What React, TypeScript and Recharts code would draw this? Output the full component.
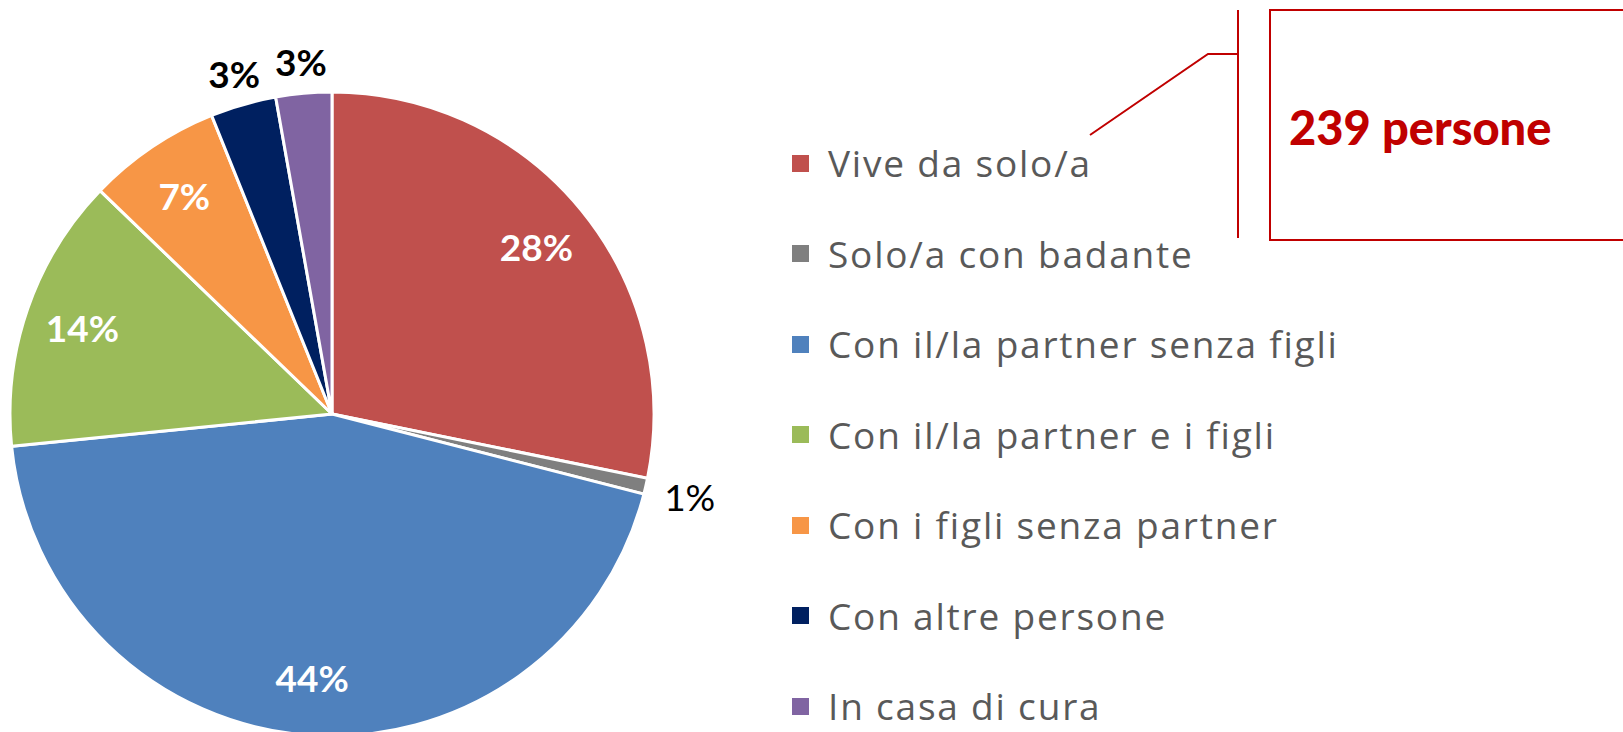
import React from 'react';
import { PieChart, Pie, Cell, Legend } from 'recharts';

const categories = [
  'Vive da solo/a',
  'Solo/a con badante',
  'Con il/la partner senza figli',
  'Con il/la partner e i figli',
  'Con i figli senza partner',
  'Con altre persone',
  'In casa di cura',
];
const shares = [28.2, 0.8, 44.4, 13.8, 6.7, 3.3, 2.8];
const colors = ['#C0504D', '#7F7F7F', '#4F81BD', '#9BBB59', '#F79646', '#002060', '#8064A2'];
const calloutText = '239 persone';

const data = categories.map((name, i) => ({ name, value: shares[i] }));

const FONT = 'Lato, "Noto Sans", sans-serif';
const LEGEND_FONT = '"Open Sans", "Noto Sans", sans-serif';
const RAD = Math.PI / 180;

const renderLabel = (props: any) => {
  const { cx, cy, midAngle, outerRadius, value } = props;
  const small = value < 5;
  const tiny = value < 1;
  const factor = small ? (tiny ? 1.14 : 1.1) : 0.82;
  const r = outerRadius * factor;
  const x = cx + r * Math.cos(-midAngle * RAD);
  const y = cy + r * Math.sin(-midAngle * RAD);
  return (
    <text
      x={x}
      y={y}
      textAnchor="middle"
      dominantBaseline="central"
      fill={small ? '#000000' : '#FFFFFF'}
      fontFamily={FONT}
      fontWeight={tiny ? 400 : 700}
      fontSize={37}
    >
      {`${Math.round(value)}%`}
    </text>
  );
};

const renderLegend = () => (
  <div style={{ fontFamily: LEGEND_FONT }}>
    {categories.map((c, i) => (
      <div key={c} style={{ display: 'flex', alignItems: 'center', height: 90.5 }}>
        <div style={{ width: 17, height: 17, background: colors[i], marginRight: 19 }} />
        <span style={{ fontSize: 37, lineHeight: '44px', color: '#595959', whiteSpace: 'nowrap', letterSpacing: 1.8 }}>{c}</span>
      </div>
    ))}
  </div>
);

export default function App() {
  return (
    <div style={{ position: 'absolute', left: 0, top: 0, width: 1623, height: 732, background: '#fff', overflow: 'hidden' }}>
      <PieChart width={1623} height={732} margin={{ top: 0, right: 0, bottom: 0, left: 0 }}>
        <Pie
          data={data}
          dataKey="value"
          nameKey="name"
          cx={332}
          cy={414}
          outerRadius={322}
          startAngle={90}
          endAngle={-270}
          stroke="#FFFFFF"
          strokeWidth={3}
          label={renderLabel}
          labelLine={false}
          isAnimationActive={false}
        >
          {data.map((d, i) => (
            <Cell key={d.name} fill={colors[i]} />
          ))}
        </Pie>
        <Legend
          content={renderLegend}
          wrapperStyle={{ position: 'absolute', left: 792, top: 118, width: 780 }}
        />
      </PieChart>
      <svg width={1623} height={732} style={{ position: 'absolute', left: 0, top: 0, pointerEvents: 'none' }}>
        <polyline points="1090,135 1208,54 1238,54" fill="none" stroke="#C00000" strokeWidth={2} />
        <line x1={1238} y1={10} x2={1238} y2={238} stroke="#C00000" strokeWidth={2} />
        <rect x={1270} y={10} width={400} height={230} fill="none" stroke="#C00000" strokeWidth={2} />
        <text x={1289} y={145} fill="#C00000" fontFamily={FONT} fontWeight={900} fontSize={47}>
          {calloutText}
        </text>
      </svg>
    </div>
  );
}
